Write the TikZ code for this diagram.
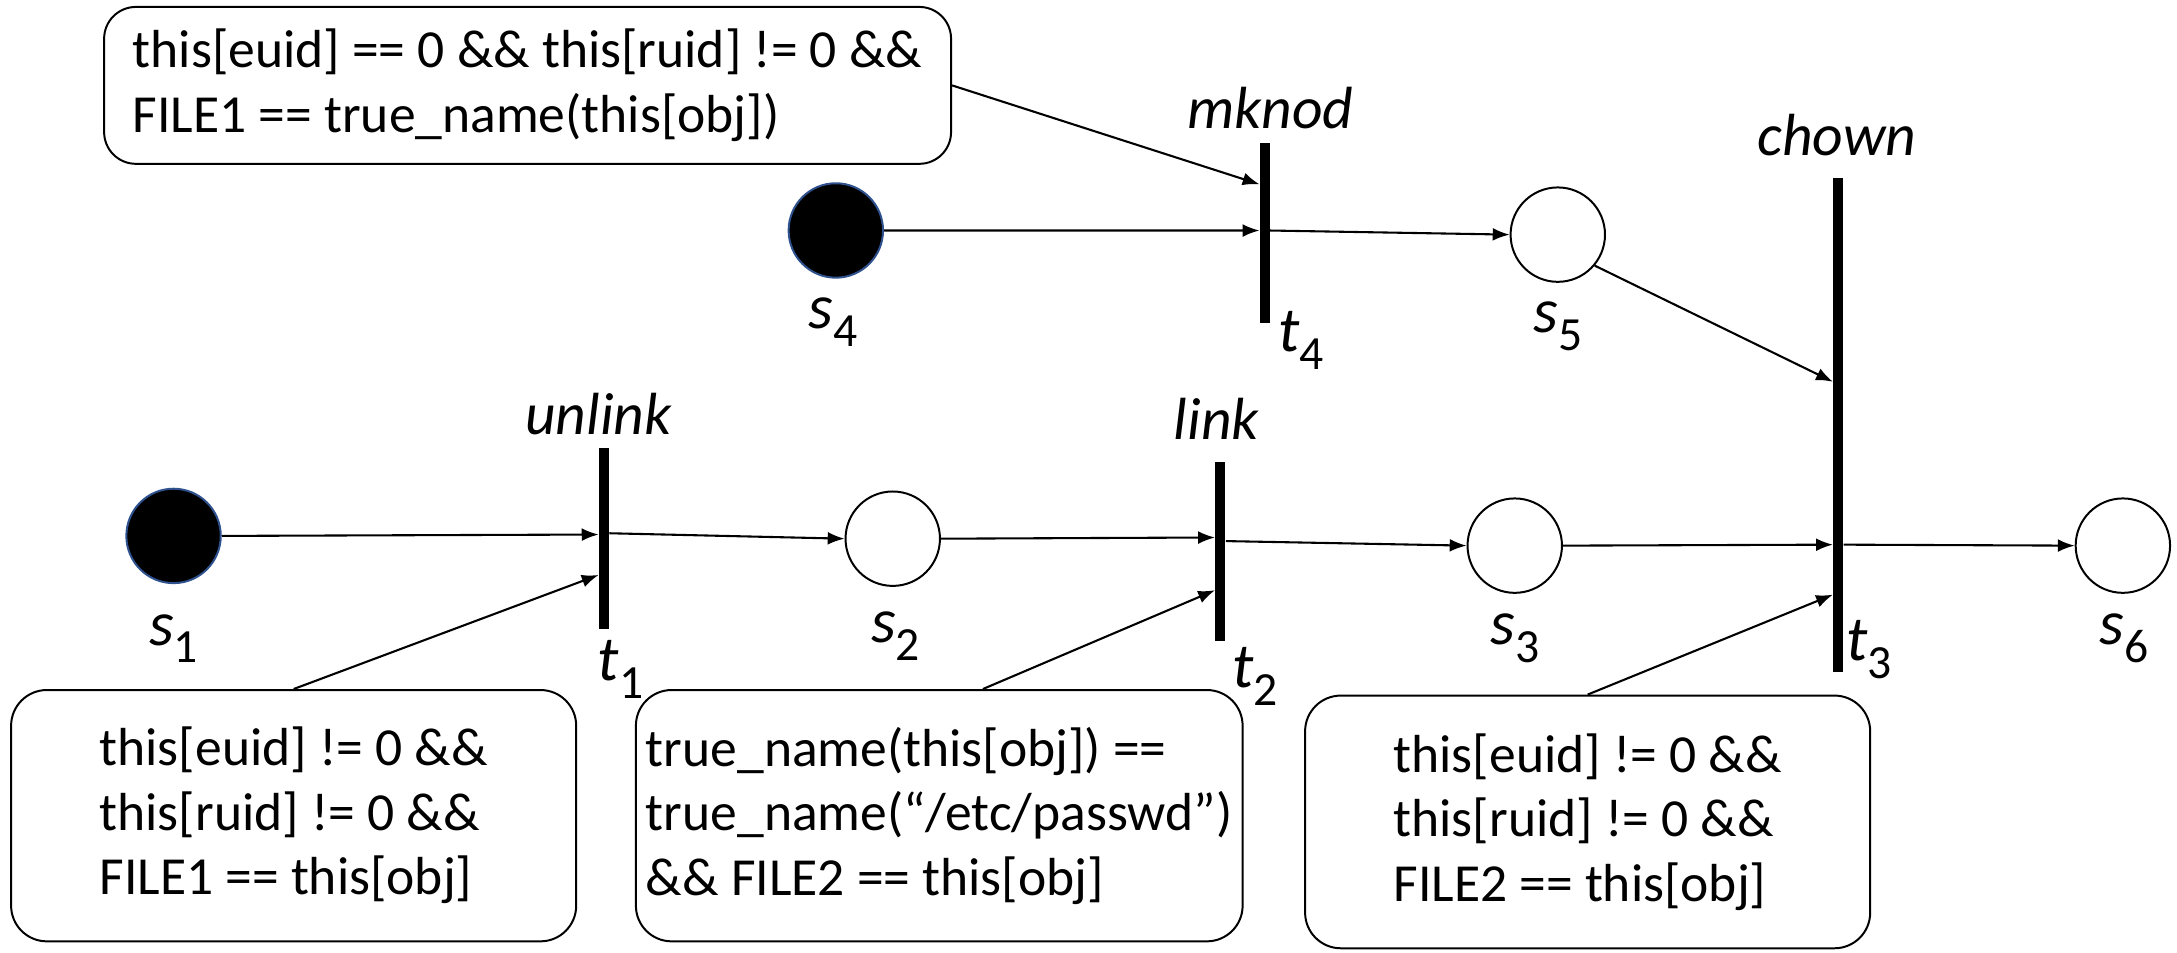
\documentclass[tikz,border=0pt]{standalone}
\usepackage{fontspec}
\setmainfont{Carlito}
\usetikzlibrary{arrows.meta,calc}
\definecolor{tokenrim}{HTML}{2F528F}
% italic name with an upright subscript index
\newcommand{\sublab}[2]{\textit{#1}\raisebox{-0.28em}{\fontsize{24}{24}\selectfont #2}}

\begin{document}
\begin{tikzpicture}[x=0.7pt,y=-0.7pt,
  place/.style={circle,draw,line width=1pt,minimum size=47.6pt,inner sep=0pt},
  marked/.style={place,fill=black,draw=tokenrim},
  trans/.style={rectangle,fill=black,minimum width=5pt,inner sep=0pt},
  guard/.style={draw,line width=1pt,rounded corners=16pt,align=left,
                font=\fontsize{27}{32.5}\selectfont,inner sep=0pt},
  arc/.style={-{Latex[length=8.5pt,width=6.5pt]},line width=1.05pt},
  tname/.style={font=\fontsize{30}{30}\selectfont\itshape,inner sep=0pt},
  pname/.style={font=\fontsize{32}{32}\selectfont,inner sep=0pt}]
\useasboundingbox (0,0) rectangle (1568,686);

% places
\node[marked] (s4) at (602,166) {};
\node[place]  (s5) at (1122,169) {};
\node[marked] (s1) at (125,386) {};
\node[place]  (s2) at (643,388) {};
\node[place]  (s3) at (1091,393) {};
\node[place]  (s6) at (1529,393) {};

% transitions
\node[trans,minimum height=91pt]    (t4) at (911,168) {};
\node[trans,minimum height=249.2pt] (t3) at (1324,306) {};
\node[trans,minimum height=91pt]    (t1) at (435,388) {};
\node[trans,minimum height=90.3pt]  (t2) at (879,397.5) {};

% names
\node[pname] at (600,232) {\sublab{s}{4}};
\node[pname] at (1122,235) {\sublab{s}{5}};
\node[pname] at (125,460) {\sublab{s}{1}};
\node[pname] at (645,458) {\sublab{s}{2}};
\node[pname] at (1091,460) {\sublab{s}{3}};
\node[pname] at (1530,460) {\sublab{s}{6}};
\node[pname] at (937,245) {\sublab{t}{4}};
\node[pname] at (1346,468) {\sublab{t}{3}};
\node[pname] at (447,482) {\sublab{t}{1}};
\node[pname] at (904,487) {\sublab{t}{2}};
\node[tname] at (915,78) {mknod};
\node[tname] at (1323,97) {chown};
\node[tname] at (431,298) {unlink};
\node[tname] at (876,302) {link};

% guards
\node[guard,minimum width=427pt,minimum height=79.1pt] (gA) at (380,61.5)
  {this[euid] == 0 \&\& this[ruid] != 0 \&\&\\FILE1 == true\_name(this[obj])};
\node[guard,rounded corners=18pt,minimum width=284.9pt,minimum height=126.7pt] (gB) at (211.5,587.5)
  {this[euid] != 0 \&\&\\this[ruid] != 0 \&\&\\FILE1 == this[obj]};
\node[guard,rounded corners=18pt,minimum width=305.9pt,minimum height=126.7pt] (gC) at (676.5,587.5)
  {true\_name(this[obj]) ==\\true\_name(“/etc/passwd”)\\\&\& FILE2 == this[obj]};
\node[guard,rounded corners=18pt,minimum width=284.9pt,minimum height=127.4pt] (gD) at (1143.5,592)
  {this[euid] != 0 \&\&\\this[ruid] != 0 \&\&\\FILE2 == this[obj]};

% arcs of the upper branch
\draw[arc] (gA.east) -- ($(t4.north west)!0.23!(t4.south west)$);
\draw[arc] (s4.east) -- ($(t4.north west)!0.485!(t4.south west)$);
\draw[arc] ($(t4.north east)!0.485!(t4.south east)$) -- (s5.west);
\draw[arc] (s5.-40) -- ($(t3.north west)!0.413!(t3.south west)$);

% arcs of the lower branch
\draw[arc] (s1.east) -- ($(t1.north west)!0.477!(t1.south west)$);
\draw[arc] ($(t1.north east)!0.47!(t1.south east)$) -- (s2.west);
\draw[arc] (gB.north) -- ($(t1.north west)!0.70!(t1.south west)$);
\draw[arc] (s2.east) -- ($(t2.north west)!0.42!(t2.south west)$);
\draw[arc] ($(t2.north east)!0.44!(t2.south east)$) -- (s3.west);
\draw[arc] ([xshift=22pt]gC.north) -- ($(t2.north west)!0.713!(t2.south west)$);
\draw[arc] (s3.east) -- ($(t3.north west)!0.742!(t3.south west)$);
\draw[arc] ($(t3.north east)!0.742!(t3.south east)$) -- (s6.west);
\draw[arc] (gD.north) -- ($(t3.north west)!0.843!(t3.south west)$);
\end{tikzpicture}
\end{document}
